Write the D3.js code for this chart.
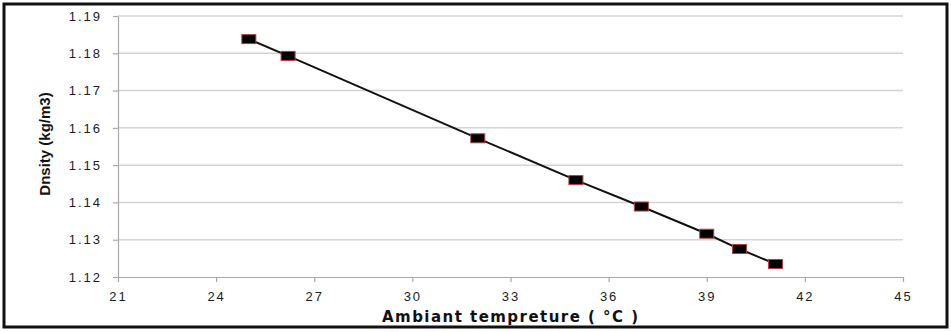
<!DOCTYPE html>
<html><head><meta charset="utf-8">
<script src="https://cdn.jsdelivr.net/npm/d3@7"></script>
<style>body{margin:0;background:#fff}svg{display:block}</style>
</head><body>
<svg id="c" width="951" height="332"></svg>
<script>
const temperature = [25, 26.2, 32, 35, 37, 39, 40, 41.1];
const density = [1.1838, 1.1793, 1.1572, 1.146, 1.1389, 1.1316, 1.1275, 1.1235];
const xTicks = [21, 24, 27, 30, 33, 36, 39, 42, 45];
const yTicks = [1.12, 1.13, 1.14, 1.15, 1.16, 1.17, 1.18, 1.19];
const xTitle = "Ambiant tempreture  ( °C )";
const yTitle = "Dnsity (kg/m3)";

const svg = d3.select("#c");
const L = 118, R = 903, T = 16, B = 277;
const x = d3.scaleLinear().domain([21, 45]).range([L, R]);
const y = d3.scaleLinear().domain([1.12, 1.19]).range([B, T]);

svg.append("rect").attr("x", 4).attr("y", 4).attr("width", 943).attr("height", 323)
  .attr("fill", "#fff").attr("stroke", "#111").attr("stroke-width", 3);

// gridlines
svg.append("g").selectAll("line").data(yTicks.slice(1)).join("line")
  .attr("x1", L).attr("x2", R).attr("y1", d => y(d)).attr("y2", d => y(d))
  .attr("stroke", "#d4d4d4").attr("stroke-width", 1.5);

const fontTick = "'Liberation Sans', Arial, sans-serif";
const xa = svg.append("g").attr("transform", `translate(0,${B})`)
  .call(d3.axisBottom(x).tickValues(xTicks).tickSize(5).tickSizeOuter(0).tickFormat(d3.format("d")));
const ya = svg.append("g").attr("transform", `translate(${L},0)`)
  .call(d3.axisLeft(y).tickValues(yTicks).tickSize(5).tickSizeOuter(0).tickFormat(d3.format(".2f")));
[xa, ya].forEach(g => {
  g.select(".domain").attr("stroke", "#a8a8a8").attr("stroke-width", 1.2);
  g.selectAll(".tick line").attr("stroke", "#a8a8a8").attr("stroke-width", 1.2);
  g.selectAll("text").attr("fill", "#1a1a2a").attr("font-family", fontTick)
    .attr("font-size", 13).style("letter-spacing", "2px");
});
xa.selectAll("text").attr("dy", "1.25em");
ya.selectAll("text").attr("x", -16);

// line
svg.append("path").datum(temperature.map((t, i) => [t, density[i]]))
  .attr("d", d3.line().x(d => x(d[0])).y(d => y(d[1])))
  .attr("fill", "none").attr("stroke", "#111").attr("stroke-width", 2);

// markers
svg.append("g").selectAll("rect").data(temperature.map((t, i) => [t, density[i]])).join("rect")
  .attr("x", d => x(d[0]) - 7).attr("y", d => y(d[1]) - 4.5)
  .attr("width", 14).attr("height", 9)
  .attr("fill", "#000").attr("stroke", "#b04040").attr("stroke-width", 1);

// titles
svg.append("text").attr("x", 510).attr("y", 322).attr("text-anchor", "middle")
  .attr("font-family", "'DejaVu Sans', sans-serif").attr("font-weight", "bold")
  .attr("font-size", 15).attr("fill", "#111")
  .attr("textLength", 256).attr("lengthAdjust", "spacing").text(xTitle);
svg.append("text").attr("transform", "translate(50,144) rotate(-90)").attr("text-anchor", "middle")
  .attr("font-family", "'Liberation Sans Narrow', 'Liberation Sans', sans-serif").attr("font-weight", "bold")
  .attr("font-size", 15).attr("fill", "#111").text(yTitle);
</script>
</body></html>
